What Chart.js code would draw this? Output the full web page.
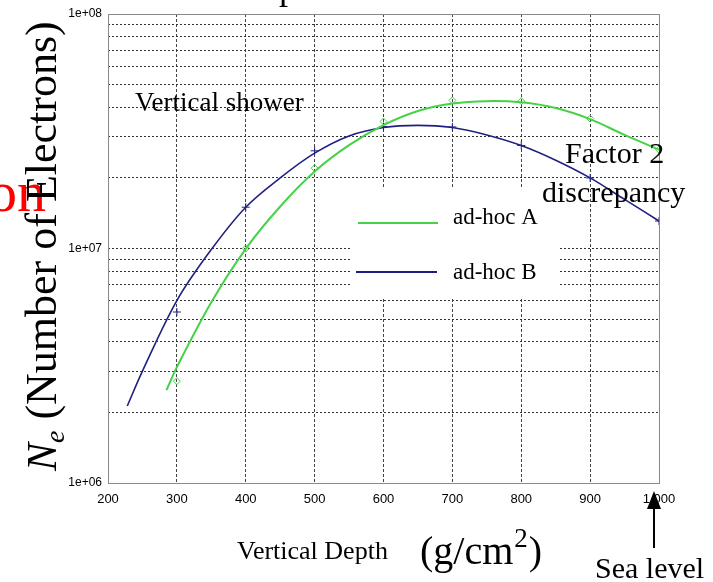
<!DOCTYPE html>
<html><head><meta charset="utf-8">
<script src="https://cdn.jsdelivr.net/npm/chart.js@4"></script>
<style>html,body{margin:0;padding:0;background:#fff;}canvas{display:block;}</style>
</head><body>
<canvas id="c" width="713" height="582"></canvas>
<script>
// ---- data ----
const depthCurveA = [285, 300, 350, 400, 450, 500, 550, 600, 650, 700, 750, 800, 850, 900, 950, 1000];
const electronsCurveA = [2.49e6, 3.12e6, 5.9e6, 9.97e6, 1.51e7, 2.13e7, 2.76e7, 3.36e7, 3.86e7, 4.15e7, 4.25e7, 4.2e7, 3.97e7, 3.56e7, 3.05e7, 2.64e7];
const depthCurveB = [228, 250, 300, 350, 400, 450, 500, 550, 600, 650, 700, 750, 800, 850, 900, 950, 1000];
const electronsCurveB = [2.13e6, 3.0e6, 6.0e6, 9.9e6, 1.5e7, 2.0e7, 2.55e7, 3.02e7, 3.28e7, 3.35e7, 3.28e7, 3.05e7, 2.75e7, 2.38e7, 2.0e7, 1.62e7, 1.31e7];
const depthPoints = [300, 400, 500, 600, 700, 800, 900, 1000];
const electronsPointsA = [2.72e6, 1.0e7, 2.2e7, 3.48e7, 4.28e7, 4.25e7, 3.58e7, 2.64e7];
const electronsPointsB = [5.36e6, 1.5e7, 2.61e7, 3.31e7, 3.3e7, 2.75e7, 2.0e7, 1.31e7];
const seriesNames = ['ad-hoc A', 'ad-hoc B'];
const xTickValues = [200, 300, 400, 500, 600, 700, 800, 900, 1000];
const yGridValues = [1e6, 2e6, 3e6, 4e6, 5e6, 6e6, 7e6, 8e6, 9e6, 1e7, 2e7, 3e7, 4e7, 5e7, 6e7, 7e7, 8e7, 9e7, 1e8];
const yTickValues = [1e6, 1e7, 1e8];
const yTickLabels = ['1e+06', '1e+07', '1e+08'];

const GREEN = 'rgb(70,210,70)';
const BLUE = 'rgb(32,32,130)';
const SERIF = '"Liberation Serif", "Times New Roman", serif';

const pts = (xs, ys) => xs.map((x, i) => ({x: x, y: ys[i]}));

const decor = {
  id: 'decor',
  beforeDatasetsDraw(chart) {
    const ctx = chart.ctx;
    ctx.save();
    // legend background box
    ctx.fillStyle = '#fff';
    ctx.fillRect(352, 188, 208, 109);
    // frame
    const a = chart.chartArea;
    ctx.strokeStyle = '#8a8a8a';
    ctx.lineWidth = 1;
    ctx.strokeRect(a.left + 0.5, a.top + 0.5, a.right - a.left, a.bottom - a.top);
    ctx.restore();
  },
  afterDraw(chart) {
    const ctx = chart.ctx;
    ctx.save();
    ctx.fillStyle = '#000';
    ctx.textBaseline = 'alphabetic';
    ctx.textAlign = 'left';
    // cut-off title fragment
    ctx.font = '36px ' + SERIF;
    ctx.fillText('p', 279, -1);
    // annotations
    ctx.font = '27px ' + SERIF;
    ctx.fillText('Vertical shower', 135, 111);
    ctx.font = '30px ' + SERIF;
    ctx.fillText('Factor 2', 565, 163);
    ctx.fillText('discrepancy', 542, 202);
    // legend
    ctx.lineWidth = 2;
    ctx.strokeStyle = GREEN;
    ctx.beginPath(); ctx.moveTo(358, 223); ctx.lineTo(438, 223); ctx.stroke();
    ctx.strokeStyle = BLUE;
    ctx.beginPath(); ctx.moveTo(356, 272); ctx.lineTo(437, 272); ctx.stroke();
    ctx.font = '23px ' + SERIF;
    ctx.fillText(seriesNames[0], 453, 224);
    ctx.fillText(seriesNames[1], 453, 279);
    // red fragment
    ctx.fillStyle = '#ff0000';
    ctx.textAlign = 'right';
    ctx.font = '58px ' + SERIF;
    ctx.fillText('on', 46, 211);
    // y-axis title (rotated)
    ctx.fillStyle = '#000';
    ctx.textAlign = 'left';
    ctx.save();
    ctx.translate(56, 471);
    ctx.rotate(-Math.PI / 2);
    let px = 0;
    ctx.font = 'italic 42px ' + SERIF;
    ctx.fillText('N', px, 0); px += ctx.measureText('N').width;
    ctx.font = 'italic 28px ' + SERIF;
    ctx.fillText('e', px, 8); px += ctx.measureText('e').width;
    ctx.font = '44px ' + SERIF;
    ctx.fillText(' (Number of Electrons)', px, 0);
    ctx.restore();
    // x-axis title
    ctx.font = '26px ' + SERIF;
    ctx.fillText('Vertical Depth', 237, 559);
    ctx.font = '40px ' + SERIF;
    let gx = 420;
    ctx.fillText('(g/cm', gx, 564); gx += ctx.measureText('(g/cm').width;
    ctx.font = '27px ' + SERIF;
    ctx.fillText('2', gx + 1, 547); gx += ctx.measureText('2').width + 2;
    ctx.font = '40px ' + SERIF;
    ctx.fillText(')', gx, 564);
    // sea level
    ctx.font = '30px ' + SERIF;
    ctx.fillText('Sea level', 595, 578);
    // arrow
    ctx.strokeStyle = '#000';
    ctx.lineWidth = 2;
    ctx.beginPath(); ctx.moveTo(654, 548); ctx.lineTo(654, 505); ctx.stroke();
    ctx.beginPath(); ctx.moveTo(654, 491); ctx.lineTo(661, 509); ctx.lineTo(647, 509); ctx.closePath(); ctx.fill();
    ctx.restore();
  }
};

new Chart(document.getElementById('c'), {
  type: 'line',
  data: {
    datasets: [
      {label: seriesNames[0], data: pts(depthCurveA, electronsCurveA), borderColor: GREEN, borderWidth: 2, pointRadius: 0, tension: 0.35, fill: false},
      {label: seriesNames[1], data: pts(depthCurveB, electronsCurveB), borderColor: BLUE, borderWidth: 1.6, pointRadius: 0, tension: 0.35, fill: false},
      {label: seriesNames[0] + ' pts', data: pts(depthPoints, electronsPointsA), showLine: false, pointStyle: 'rectRot', pointRadius: 3.5, borderColor: GREEN, backgroundColor: 'rgba(0,0,0,0)', pointBorderWidth: 1},
      {label: seriesNames[1] + ' pts', data: pts(depthPoints, electronsPointsB), showLine: false, pointStyle: 'cross', pointRadius: 4, borderColor: BLUE, pointBorderWidth: 1}
    ]
  },
  options: {
    responsive: false,
    animation: false,
    devicePixelRatio: 1,
    layout: {padding: {left: 0, top: 14, right: 54, bottom: 69}},
    plugins: {legend: {display: false}, tooltip: {enabled: false}, title: {display: false}},
    scales: {
      x: {
        type: 'linear', min: 200, max: 1000,
        afterFit(s) { s.height = 30; },
        afterBuildTicks(s) { s.ticks = xTickValues.map(v => ({value: v})); },
        ticks: {color: '#000', font: {family: '"Liberation Sans", Arial, sans-serif', size: 13}, padding: 9, maxRotation: 0, autoSkip: false},
        grid: {color: '#444', lineWidth: 1, drawTicks: false, tickLength: 0},
        border: {display: false, dash: [3, 2]}
      },
      y: {
        type: 'logarithmic', min: 1e6, max: 1e8,
        afterFit(s) { s.width = 108; },
        afterBuildTicks(s) { s.ticks = yGridValues.map(v => ({value: v})); },
        ticks: {
          color: '#000', font: {family: '"Liberation Sans", Arial, sans-serif', size: 12}, padding: 6, autoSkip: false,
          callback(v) { const i = yTickValues.indexOf(v); return i >= 0 ? yTickLabels[i] : ''; }
        },
        grid: {color: '#333', lineWidth: 1, drawTicks: false, tickLength: 0},
        border: {display: false, dash: [2, 2]}
      }
    }
  },
  plugins: [decor]
});
</script>
</body></html>
